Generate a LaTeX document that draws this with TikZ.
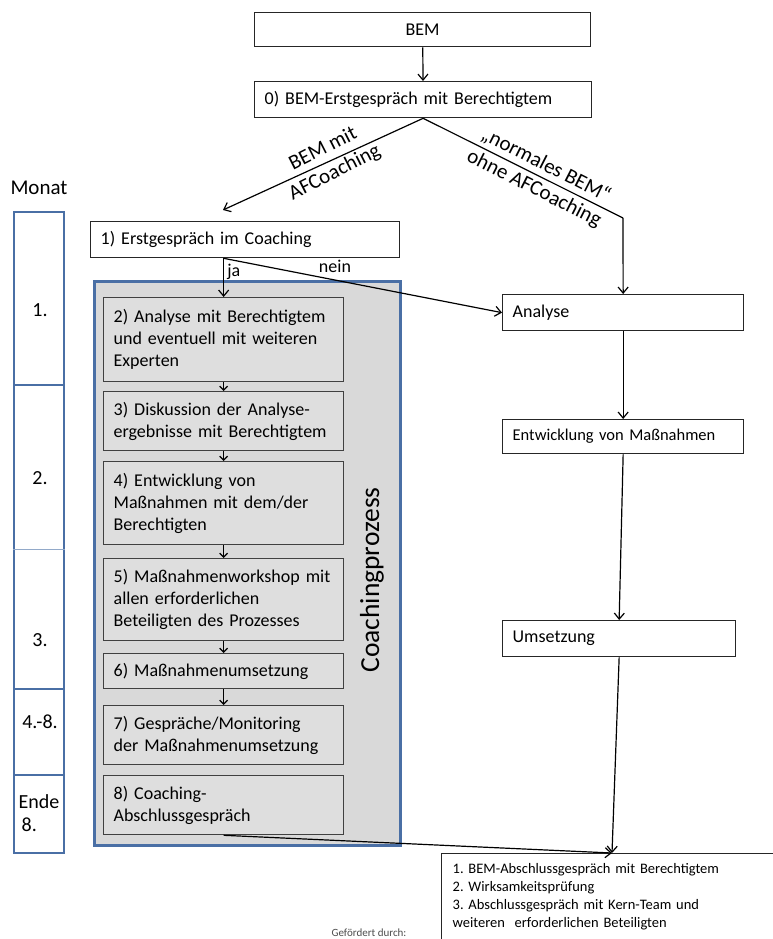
\documentclass[tikz,border=0pt]{standalone}
\usepackage{fontspec}
\setmainfont{Carlito}
\frenchspacing
\usetikzlibrary{arrows,arrows.meta,positioning}
\definecolor{colormonat}{RGB}{74,111,165}
\definecolor{colorcoach}{RGB}{217,217,217}
\definecolor{colorphase}{RGB}{222,222,222}
\tikzstyle{every node}=[font=\fontsize{18}{22}\selectfont]
\tikzstyle{stage}=[rectangle, draw=black!85, fill=white, line width=1.3pt, inner xsep=10pt, inner ysep=2pt, align=left, anchor=north west]
\tikzstyle{phase}=[stage, fill=colorphase, draw=black!75, text width=220pt]
\tikzstyle{month}=[rectangle, draw=colormonat, line width=2.2pt, anchor=north west, minimum width=50pt, inner sep=0pt]
\tikzstyle{monthlabel}=[font=\fontsize{20}{23}\selectfont, inner sep=1pt]
\tikzstyle{rotlabel}=[align=center, inner sep=1pt, font=\fontsize{21}{26}\selectfont]
\tikzstyle{small arrow}=[-{Straight Barb[length=4pt,width=8pt]}]

\begin{document}
\begin{tikzpicture}[x=1pt, y=-1pt, auto, ->, >={Straight Barb[length=6pt,width=10pt]}, line width=1.2pt]
		\clip (0,0) rectangle (773,939);
		
		\node[stage, text width=316pt, minimum height=34pt, align=center] at (254,12) (bem) {BEM};
		
		\node[stage, text width=317pt, minimum height=36pt] at (254,81) (erst0) {0) BEM-Erstgespräch mit Berechtigtem};
		
		\node[stage, text width=289pt, minimum height=36pt] at (90,221) (erst1) {1) Erstgespräch im Coaching};
		
		% Monate
		\node[font=\fontsize{21}{24}\selectfont] at (39,188) (monat) {Monat};
		\node[month, minimum height=173pt] at (13,211) (m1) {};
		\node[month, minimum height=304pt] at (13,384) (m23) {};
		\node[month, minimum height=86pt] at (13,688) (m4) {};
		\node[month, minimum height=78pt] at (13,774) (m5) {};
		\draw[-, colormonat!60, line width=1pt] (m23.west |- 0,549) -- (m23.east |- 0,549);
		\node[monthlabel] at (40,310) (m1l) {1.};
		\node[monthlabel] at (40,478) (m2l) {2.};
		\node[monthlabel] at (40,640) (m3l) {3.};
		\node[monthlabel] at (40,722) (m4l) {4.-8.};
		\node[monthlabel, align=left] at (39,813) (m5l) {Ende\\\hspace{3pt}8.};
		
		% Coachingprozess
		\node[rectangle, draw=colormonat, fill=colorcoach, line width=2.5pt, minimum width=306pt, minimum height=564pt, anchor=north west, inner sep=0pt] at (93,280) (coaching) {};
		\node[rotate=90, font=\fontsize{27.5}{30}\selectfont] at (372,580) (coachlabel) {Coachingprozess};
		
		\node[phase, minimum height=84pt] at (103,297) (c2) {2) Analyse mit Berechtigtem\\und eventuell mit weiteren\\Experten};
		\node[phase, minimum height=59pt] at (103,391) (c3) {3) Diskussion der Analyse-\\ergebnisse mit Berechtigtem};
		\node[phase, minimum height=83pt] at (103,461) (c4) {4) Entwicklung von\\Maßnahmen mit dem/der\\Berechtigten};
		\node[phase, minimum height=82pt] at (103,558) (c5) {5) Maßnahmenworkshop mit\\allen erforderlichen\\Beteiligten des Prozesses};
		\node[phase, minimum height=35pt] at (103,653) (c6) {6) Maßnahmenumsetzung};
		\node[phase, minimum height=59pt] at (103,705) (c7) {7) Gespräche/Monitoring\\der Maßnahmenumsetzung};
		\node[phase, minimum height=59pt] at (103,775) (c8) {8) Coaching-\\Abschlussgespräch};
		
		% normales BEM
		\node[stage, text width=221pt, minimum height=36pt] at (502,294) (analyse) {Analyse};
		\node[stage, text width=221pt, minimum height=34pt, font=\fontsize{16.5}{20}\selectfont] at (502,419) (entw) {Entwicklung von Maßnahmen};
		\node[stage, text width=213pt, minimum height=36pt] at (502,620) (umsetz) {Umsetzung};
		
		\node[stage, text width=330pt, align=left, font=\fontsize{14.5}{18}\selectfont, inner xsep=11pt, inner ysep=10pt] at (441,853) (abschluss) {1. BEM-Abschlussgespräch mit Berechtigtem\\2. Wirksamkeitsprüfung\\3. Abschlussgespräch mit Kern-Team und\\weiteren\ \ erforderlichen Beteiligten\\[20pt]};
		
		\node[font=\fontsize{11}{12}\selectfont, text=black!70] at (369,933) (foerder) {Gefördert durch:};
		
		\coordinate (tipl) at (223,210);
		\coordinate (knick) at (623,218);
		\coordinate (ziel) at (612,853);
		
		\path (bem) edge (erst0);
		\draw (erst0.south) -- (tipl);
		\draw[-] (erst0.south) -- (knick);
		\draw (knick) -- (analyse.north);
		\node[rotlabel, rotate=27] at (329,161) (lblmit) {BEM mit\\AFCoaching};
		\node[rotlabel, rotate=-27] at (540,177) (lblohne) {„normales BEM“\\ohne AFCoaching};
		
		\draw (c2.north |- erst1.south) -- node[right, pos=0.35, inner sep=3pt]{ja} (c2.north);
		\draw (c2.north |- erst1.south) -- node[pos=0.4, above=3pt]{nein} (analyse.west);
		
		\path[small arrow] (c2) edge (c3);
		\path[small arrow] (c3) edge (c4);
		\path[small arrow] (c4) edge (c5);
		\path[small arrow] (c5) edge (c6);
		\path[small arrow] (c6) edge (c7);
		\draw (c8.south) -- (ziel);
		
		\path (analyse) edge (entw);
		\draw (entw.south) -- (umsetz.north);
		\draw (umsetz.south) -- (ziel);
		
		\end{tikzpicture}
\end{document}
